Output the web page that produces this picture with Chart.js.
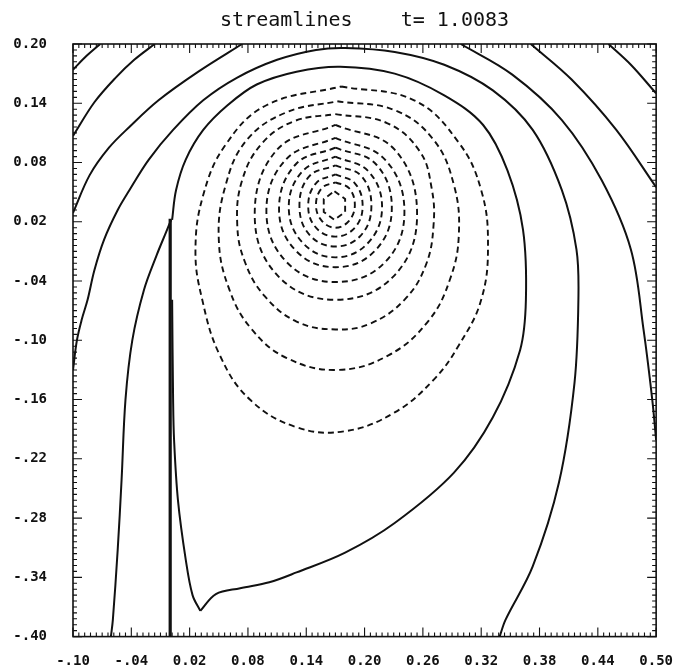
<!DOCTYPE html>
<html>
<head>
<meta charset="utf-8">
<title>streamlines</title>
<script src="https://cdn.jsdelivr.net/npm/chart.js@4.4.0/dist/chart.umd.min.js"></script>
<style>
  html, body { margin: 0; padding: 0; background: #fff; }
  #wrap { width: 689px; height: 671px; }
</style>
</head>
<body>
<div id="wrap"><canvas id="streamChart" width="689" height="671"></canvas></div>
<script>
// axis ticks
const xTicks = [-0.10, -0.04, 0.02, 0.08, 0.14, 0.20, 0.26, 0.32, 0.38, 0.44, 0.50];
const xTickLabels = ["-.10", "-.04", "0.02", "0.08", "0.14", "0.20", "0.26", "0.32", "0.38", "0.44", "0.50"];
const yTicks = [0.20, 0.14, 0.08, 0.02, -0.04, -0.10, -0.16, -0.22, -0.28, -0.34, -0.40];
const yTickLabels = ["0.20", "0.14", "0.08", "0.02", "-.04", "-.10", "-.16", "-.22", "-.28", "-.34", "-.40"];

// solid streamlines (psi >= 0), [x, y]
const cornerLeft1 = [[-0.100, 0.174], [-0.086, 0.188], [-0.072, 0.200]];
const cornerLeft2 = [[-0.100, 0.107], [-0.078, 0.141], [-0.057, 0.165], [-0.037, 0.184], [-0.016, 0.200]];
const cornerLeft3 = [[-0.100, 0.029], [-0.083, 0.067], [-0.063, 0.095], [-0.042, 0.116], [-0.012, 0.143], [0.029, 0.172], [0.074, 0.200]];
const cornerRight1 = [[0.451, 0.200], [0.474, 0.179], [0.500, 0.150]];
const cornerRight2 = [[0.371, 0.200], [0.413, 0.164], [0.459, 0.113], [0.500, 0.055]];
const rightEdge = [[0.299, 0.200], [0.352, 0.169], [0.403, 0.123], [0.444, 0.062], [0.474, -0.008], [0.487, -0.089], [0.496, -0.160], [0.500, -0.201]];
const overArc = [[-0.100, -0.130], [-0.096, -0.100], [-0.091, -0.079], [-0.085, -0.059], [-0.078, -0.029], [-0.068, 0.002],
  [-0.054, 0.032], [-0.042, 0.052], [-0.022, 0.083], [0.003, 0.113], [0.034, 0.143], [0.069, 0.166], [0.110, 0.184],
  [0.150, 0.194], [0.180, 0.196], [0.231, 0.192], [0.282, 0.179], [0.332, 0.153], [0.373, 0.113], [0.403, 0.052],
  [0.418, -0.008], [0.420, -0.059], [0.416, -0.143], [0.400, -0.244], [0.373, -0.329], [0.345, -0.383], [0.339, -0.400]];
const leftOfWall = [[-0.061, -0.400], [-0.059, -0.383], [-0.054, -0.312], [-0.050, -0.241], [-0.046, -0.160], [-0.039, -0.100],
  [-0.027, -0.049], [-0.014, -0.014], [-0.004, 0.010], [0.001, 0.022]];
const wall = [[0.000, -0.400], [0.000, 0.023]];
const separatrix = [[0.002, 0.022], [0.006, 0.052], [0.016, 0.083], [0.034, 0.113], [0.059, 0.138], [0.089, 0.159], [0.130, 0.172],
  [0.175, 0.177], [0.231, 0.170], [0.282, 0.148], [0.322, 0.118], [0.347, 0.072], [0.363, 0.012], [0.366, -0.059],
  [0.360, -0.110], [0.332, -0.178], [0.292, -0.234], [0.231, -0.285], [0.180, -0.315], [0.130, -0.335], [0.102, -0.345],
  [0.072, -0.351], [0.047, -0.357], [0.031, -0.374]];
const cuspBranch = [[0.031, -0.374], [0.023, -0.358], [0.016, -0.322], [0.008, -0.262], [0.004, -0.201], [0.003, -0.160], [0.002, -0.059]];

// dashed streamlines (psi < 0), vortex rings from outside in
const ring11 = [[0.176, 0.157], [0.251, 0.143], [0.297, 0.100], [0.320, 0.052], [0.327, -0.003], [0.320, -0.059], [0.297, -0.105],
  [0.271, -0.140], [0.231, -0.173], [0.180, -0.192], [0.130, -0.188], [0.082, -0.160], [0.051, -0.115], [0.033, -0.059],
  [0.026, -0.009], [0.034, 0.047], [0.057, 0.098], [0.099, 0.138], [0.176, 0.157]];
const ring10 = [[0.172, 0.142], [0.231, 0.133], [0.271, 0.103], [0.292, 0.057], [0.297, 0.007], [0.288, -0.038], [0.266, -0.080],
  [0.225, -0.115], [0.172, -0.130], [0.120, -0.118], [0.084, -0.089], [0.061, -0.049], [0.050, 0.002], [0.057, 0.057],
  [0.079, 0.103], [0.120, 0.131], [0.172, 0.142]];
const ring9 = [[0.170, 0.129], [0.223, 0.120], [0.257, 0.091], [0.269, 0.054], [0.271, 0.017], [0.263, -0.024], [0.241, -0.059],
  [0.206, -0.083], [0.170, -0.089], [0.130, -0.081], [0.097, -0.055], [0.077, -0.021], [0.069, 0.017], [0.074, 0.062],
  [0.095, 0.100], [0.128, 0.122], [0.170, 0.129]];
const ring8 = [[0.170, 0.118], [0.231, 0.093], [0.254, 0.025], [0.229, -0.036], [0.170, -0.059], [0.112, -0.036], [0.087, 0.025], [0.110, 0.093], [0.170, 0.118]];
const ring7 = [[0.170, 0.105], [0.221, 0.083], [0.241, 0.029], [0.220, -0.022], [0.170, -0.041], [0.121, -0.022], [0.099, 0.029], [0.119, 0.083], [0.170, 0.105]];
const ring6 = [[0.170, 0.095], [0.212, 0.078], [0.228, 0.032], [0.210, -0.010], [0.170, -0.026], [0.130, -0.010], [0.112, 0.032], [0.129, 0.078], [0.170, 0.095]];
const ring5 = [[0.170, 0.086], [0.204, 0.071], [0.218, 0.034], [0.203, -0.002], [0.170, -0.016], [0.137, -0.002], [0.122, 0.034], [0.136, 0.071], [0.170, 0.086]];
const ring4 = [[0.170, 0.077], [0.197, 0.066], [0.207, 0.035], [0.196, 0.006], [0.170, -0.005], [0.144, 0.006], [0.133, 0.035], [0.143, 0.066], [0.170, 0.077]];
const ring3 = [[0.170, 0.068], [0.190, 0.059], [0.198, 0.036], [0.190, 0.014], [0.170, 0.005], [0.150, 0.014], [0.142, 0.036], [0.150, 0.059], [0.170, 0.068]];
const ring2 = [[0.170, 0.060], [0.184, 0.054], [0.190, 0.037], [0.184, 0.021], [0.170, 0.014], [0.156, 0.021], [0.150, 0.037], [0.156, 0.054], [0.170, 0.060]];
const ring1 = [[0.169, 0.051], [0.180, 0.043], [0.180, 0.030], [0.169, 0.022], [0.158, 0.030], [0.158, 0.043], [0.169, 0.051]];

const solidLines = [cornerLeft1, cornerLeft2, cornerLeft3, cornerRight1, cornerRight2, rightEdge, overArc, leftOfWall, separatrix, cuspBranch];
const dashedLines = [ring11, ring10, ring9, ring8, ring7, ring6, ring5, ring4, ring3, ring2, ring1];

const ink = "#111";
const tickFont = { family: "'DejaVu Sans Mono', monospace", size: 14, weight: "bold" };

function toPoints(arr) {
  return arr.map(p => ({ x: p[0], y: p[1] }));
}

const datasets = [];
solidLines.forEach(line => {
  datasets.push({
    data: toPoints(line),
    borderColor: ink,
    borderWidth: 2,
    tension: 0.35
  });
});
datasets.push({
  data: toPoints(wall),
  borderColor: ink,
  borderWidth: 3.2,
  tension: 0
});
dashedLines.forEach((line, i) => {
  datasets.push({
    data: toPoints(line),
    borderColor: ink,
    borderWidth: 1.9,
    borderDash: [6, 4],
    tension: i === dashedLines.length - 1 ? 0 : 0.4
  });
});

// frame with inward major and minor ticks on all four sides
const frameTicks = {
  id: "frameTicks",
  afterDatasetsDraw(chart) {
    const { ctx, chartArea: a, scales } = chart;
    ctx.save();
    ctx.strokeStyle = ink;
    ctx.lineWidth = 1.6;
    ctx.strokeRect(a.left, a.top, a.right - a.left, a.bottom - a.top);
    ctx.lineWidth = 1.1;
    ctx.beginPath();
    xTicks.forEach((t, i) => {
      for (let k = 0; k < 10; k++) {
        if (i === xTicks.length - 1 && k > 0) break;
        const px = scales.x.getPixelForValue(t + k * 0.006);
        const len = k === 0 ? 9 : 4;
        ctx.moveTo(px, a.bottom); ctx.lineTo(px, a.bottom - len);
        ctx.moveTo(px, a.top); ctx.lineTo(px, a.top + len);
      }
    });
    yTicks.forEach((t, i) => {
      for (let k = 0; k < 10; k++) {
        if (i === yTicks.length - 1 && k > 0) break;
        const py = scales.y.getPixelForValue(t - k * 0.006);
        const len = k === 0 ? 9 : 4;
        ctx.moveTo(a.left, py); ctx.lineTo(a.left + len, py);
        ctx.moveTo(a.right, py); ctx.lineTo(a.right - len, py);
      }
    });
    ctx.stroke();
    ctx.restore();
  }
};

function labelFor(ticks, labels, value) {
  const i = ticks.findIndex(t => Math.abs(t - value) < 1e-9);
  return i >= 0 ? labels[i] : "";
}

new Chart(document.getElementById("streamChart"), {
  type: "scatter",
  data: { datasets: datasets },
  options: {
    responsive: false,
    animation: false,
    showLine: true,
    elements: { point: { radius: 0, hoverRadius: 0 } },
    layout: { padding: { left: 0, right: 23, top: 0, bottom: 0 } },
    plugins: {
      legend: { display: false },
      tooltip: { enabled: false },
      title: {
        display: true,
        text: "streamlines    t= 1.0083",
        color: ink,
        fullSize: false,
        font: { family: "'DejaVu Sans Mono', monospace", size: 20, weight: "normal", lineHeight: 1.2 },
        padding: { top: 9, bottom: 11 }
      }
    },
    scales: {
      x: {
        type: "linear",
        min: -0.10,
        max: 0.50,
        afterBuildTicks: scale => { scale.ticks = xTicks.map(v => ({ value: v })); },
        afterFit: scale => { scale.height = 34; },
        grid: { display: false, drawTicks: false },
        border: { display: false },
        ticks: {
          color: ink,
          font: tickFont,
          padding: 16,
          maxRotation: 0,
          autoSkip: false,
          callback: v => labelFor(xTicks, xTickLabels, v)
        }
      },
      y: {
        type: "linear",
        min: -0.40,
        max: 0.20,
        afterBuildTicks: scale => { scale.ticks = yTicks.map(v => ({ value: v })); },
        afterFit: scale => { scale.width = 73; },
        grid: { display: false, drawTicks: false },
        border: { display: false },
        ticks: {
          color: ink,
          font: tickFont,
          padding: 26,
          autoSkip: false,
          callback: v => labelFor(yTicks, yTickLabels, v)
        }
      }
    }
  },
  plugins: [frameTicks]
});
</script>
</body>
</html>
